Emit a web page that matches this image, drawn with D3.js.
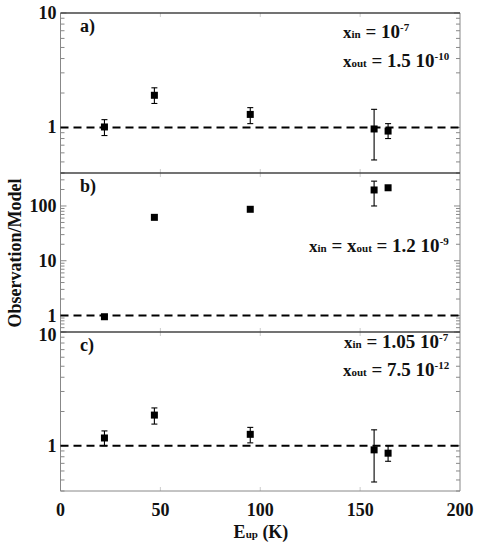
<!DOCTYPE html>
<meta charset="utf-8">
<style>
body { margin: 0; background: #fff; }
text { font-family: "Liberation Serif", "Times New Roman", serif; font-weight: bold; fill: #111; }
.frame { stroke: #888; stroke-width: 1; fill: none; }
.sep { stroke: #444; stroke-width: 1.6; }
.tick { stroke: #888; stroke-width: 1; }
.ref { stroke: #000; stroke-width: 2; stroke-dasharray: 8,5; }
.err { stroke: #000; stroke-width: 1.1; }
</style>
<body>
<script src="https://d3js.org/d3.v7.min.js"></script>
<script>
// upper level energies (K), same for each panel
var eup = [22, 47, 95, 157, 164];

// panel a
var ratioA = [1.01, 1.91, 1.30, 0.97, 0.93];
var loA    = [0.85, 1.62, 1.08, 0.52, 0.80];
var hiA    = [1.17, 2.22, 1.49, 1.44, 1.08];
// panel b
var ratioB = [0.95, 62, 87, 196, 215];
var loB    = [null, null, null, 100, null];
var hiB    = [null, null, null, 284, null];
// panel c
var ratioC = [1.17, 1.86, 1.26, 0.92, 0.86];
var loC    = [1.00, 1.55, 1.06, 0.48, 0.73];
var hiC    = [1.35, 2.15, 1.45, 1.38, 1.00];

var xTicks = [0, 50, 100, 150, 200];

var panels = [
  {tag: "a)", ratio: ratioA, lo: loA, hi: hiA, dom: [0.4, 10], labels: [1, 10], top: 13, bot: 173},
  {tag: "b)", ratio: ratioB, lo: loB, hi: hiB, dom: [0.5, 400], labels: [1, 10, 100], top: 173, bot: 332},
  {tag: "c)", ratio: ratioC, lo: loC, hi: hiC, dom: [0.4, 10], labels: [1, 10], top: 332, bot: 491}
];

var W = 480, H = 547, left = 60.5, right = 460;

var svg = d3.select("body").append("svg").attr("width", W).attr("height", H);

var x = d3.scaleLinear().domain([0, 200]).range([left, right]);

panels.forEach(function(p, k) {
  var y = d3.scaleLog().domain(p.dom).range([p.bot, p.top]);
  var g = svg.append("g");

  // log ticks, inward on both sides
  var ticks = y.ticks();
  ticks.forEach(function(t) {
    var major = Math.abs(Math.log10(t) - Math.round(Math.log10(t))) < 1e-9;
    var len = major ? 6 : 4;
    g.append("line").attr("class", "tick")
      .attr("x1", left).attr("x2", left + len).attr("y1", y(t)).attr("y2", y(t));
    g.append("line").attr("class", "tick")
      .attr("x1", right).attr("x2", right - len).attr("y1", y(t)).attr("y2", y(t));
  });
  // x ticks inward at top/bottom
  xTicks.slice(1, -1).forEach(function(t) {
    g.append("line").attr("class", "tick").style("stroke", "#ccc")
      .attr("x1", x(t)).attr("x2", x(t)).attr("y1", p.bot).attr("y2", p.bot - 4);
    g.append("line").attr("class", "tick").style("stroke", "#ccc")
      .attr("x1", x(t)).attr("x2", x(t)).attr("y1", p.top).attr("y2", p.top + 4);
  });

  // side frame
  g.append("line").attr("class", "frame").attr("x1", left).attr("x2", left).attr("y1", p.top).attr("y2", p.bot);
  g.append("line").attr("class", "frame").attr("x1", right).attr("x2", right).attr("y1", p.top).attr("y2", p.bot);
  g.append("line").attr("class", "sep").attr("x1", left).attr("x2", right).attr("y1", p.top).attr("y2", p.top);
  if (k === 2)
    g.append("line").attr("class", "frame").attr("x1", left).attr("x2", right).attr("y1", p.bot).attr("y2", p.bot);

  // y tick labels (top label of lower panels nudged down a little)
  p.labels.forEach(function(t) {
    var dy = (k > 0 && t === p.labels[p.labels.length - 1] && y(t) - p.top < 5) ? 9 : 6;
    g.append("text").attr("x", left - 4).attr("y", y(t) + dy)
      .attr("text-anchor", "end").style("font-size", "18px").text(t);
  });

  // reference line at 1
  g.append("line").attr("class", "ref")
    .attr("x1", left).attr("x2", right).attr("y1", y(1)).attr("y2", y(1));

  // error bars
  eup.forEach(function(e, i) {
    if (p.lo[i] == null) return;
    var cx = x(e);
    g.append("line").attr("class", "err").attr("x1", cx).attr("x2", cx).attr("y1", y(p.lo[i])).attr("y2", y(p.hi[i]));
    [p.lo[i], p.hi[i]].forEach(function(v) {
      g.append("line").attr("class", "err").attr("x1", cx - 3).attr("x2", cx + 3).attr("y1", y(v)).attr("y2", y(v));
    });
  });
  // markers
  g.selectAll("rect.pt").data(p.ratio).enter().append("rect")
    .attr("x", function(d, i) { return x(eup[i]) - 3.5; })
    .attr("y", function(d) { return y(d) - 3.5; })
    .attr("width", 7).attr("height", 7).attr("fill", "#000");

  g.append("text").attr("x", 80).attr("y", p.top + 19).style("font-size", "18px").text(p.tag);
});

// abundance annotations
function note(xp, yp, parts) {
  var t = svg.append("text").attr("x", xp).attr("y", yp);
  parts.forEach(function(s) {
    t.append("tspan").style("font-size", s[1] + "px")
      .attr("dy", s[2] || 0).text(s[0]);
  });
}
note(343, 38, [["x", 17], ["in", 11], [" = 10", 19], ["-7", 11, -7]]);
note(343, 67, [["x", 17], ["out", 11], [" = 1.5 10", 19], ["-10", 11, -7]]);
note(309, 252, [["x", 17], ["in", 11], [" = x", 19], ["out", 11], [" = 1.2 10", 19], ["-9", 11, -7]]);
note(344, 348, [["x", 17], ["in", 11], [" = 1.05 10", 19], ["-7", 11, -7]]);
note(343, 376, [["x", 17], ["out", 11], [" = 7.5 10", 19], ["-12", 11, -7]]);

// x axis labels
xTicks.forEach(function(t) {
  svg.append("text").attr("x", x(t)).attr("y", 516).attr("text-anchor", "middle")
    .style("font-size", "18px").text(t);
});

var xl = svg.append("text").attr("x", 261).attr("y", 538).attr("text-anchor", "middle");
xl.append("tspan").style("font-size", "18px").text("E");
xl.append("tspan").style("font-size", "11px").text("up");
xl.append("tspan").style("font-size", "18px").text(" (K)");

svg.append("text").attr("transform", "translate(21,253) rotate(-90)")
  .attr("text-anchor", "middle").style("font-size", "18px").text("Observation/Model");
</script>
</body>
